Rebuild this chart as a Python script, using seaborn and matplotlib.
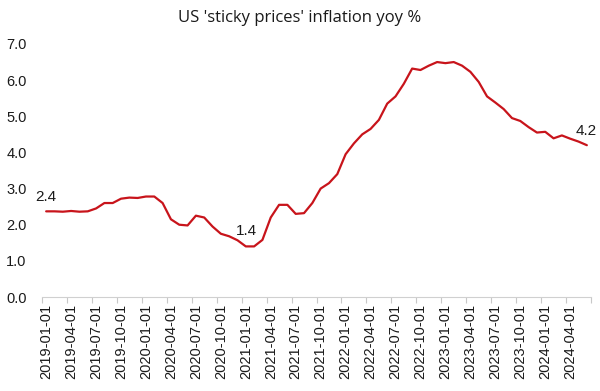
import matplotlib
matplotlib.use("Agg")
import matplotlib.pyplot as plt
import seaborn as sns
import pandas as pd
import numpy as np

months = pd.date_range("2019-01-01", periods=66, freq="MS").strftime("%Y-%m-%d").tolist()
values = [2.37, 2.37, 2.36, 2.38, 2.36, 2.37, 2.45, 2.60, 2.60, 2.72, 2.75, 2.74,
          2.78, 2.78, 2.60, 2.15, 2.00, 1.98, 2.25, 2.20, 1.95, 1.75, 1.68, 1.57,
          1.40, 1.40, 1.58, 2.20, 2.55, 2.55, 2.30, 2.32, 2.60, 3.00, 3.15, 3.40,
          3.95, 4.25, 4.50, 4.65, 4.90, 5.35, 5.55, 5.90, 6.32, 6.28, 6.40, 6.50,
          6.47, 6.50, 6.40, 6.23, 5.95, 5.55, 5.38, 5.20, 4.95, 4.87, 4.70, 4.55,
          4.57, 4.39, 4.47, 4.38, 4.30, 4.20]
tick_labels = months[::3]
y_ticks = [0.0, 1.0, 2.0, 3.0, 4.0, 5.0, 6.0, 7.0]
labelled = {0: "2.4", 24: "1.4", 65: "4.2"}

df = pd.DataFrame({"idx": np.arange(len(values)), "month": months, "value": values})

sns.set_style("white")
plt.rcParams["font.family"] = ["Liberation Sans", "DejaVu Sans"]

fig = plt.figure(figsize=(6, 3.91), dpi=100)
ax = fig.add_axes([0.07, 0.2404, 0.915, 0.6471])
sns.lineplot(data=df, x="idx", y="value", ax=ax, color="#C8141B", linewidth=1.6)

ax.set_xlim(-0.5, len(values) - 0.5)
ax.set_ylim(0, 7)
ax.set_yticks(y_ticks)
ax.set_yticklabels([f"{v:.1f}" for v in y_ticks], fontsize=10.5, color="#1a1a1a")
ax.tick_params(axis="y", length=0, pad=11)

ax.set_xticks(df["idx"][::3])
ax.set_xticklabels(tick_labels, rotation=90, fontsize=10.5, color="#1a1a1a")
ax.set_xticks(np.arange(-0.5, len(values), 3), minor=True)
ax.tick_params(axis="x", which="major", length=0, pad=5)
ax.tick_params(axis="x", which="minor", length=4, color="#c8c8c8", width=0.8, bottom=True)
ax.set_xlabel("")
ax.set_ylabel("")

for s in ["left", "top", "right"]:
    ax.spines[s].set_visible(False)
ax.spines["bottom"].set_color("#d0d0d0")
ax.spines["bottom"].set_linewidth(0.8)
ax.grid(False)

offsets = {0: (-8, 5), 24: (-7, 6), 65: (-8, 5)}
for i, txt in labelled.items():
    ax.annotate(txt, (df["idx"][i], values[i]), xytext=offsets[i], textcoords="offset points",
                fontsize=11, color="#1a1a1a", ha="left", va="bottom")

fig.text(0.5, 0.953, "US 'sticky prices' inflation yoy %", ha="center", va="center",
         fontsize=12, color="#1a1a1a", family=["Open Sans", "DejaVu Sans"])

fig.savefig("out.png", dpi=100, facecolor="white")
